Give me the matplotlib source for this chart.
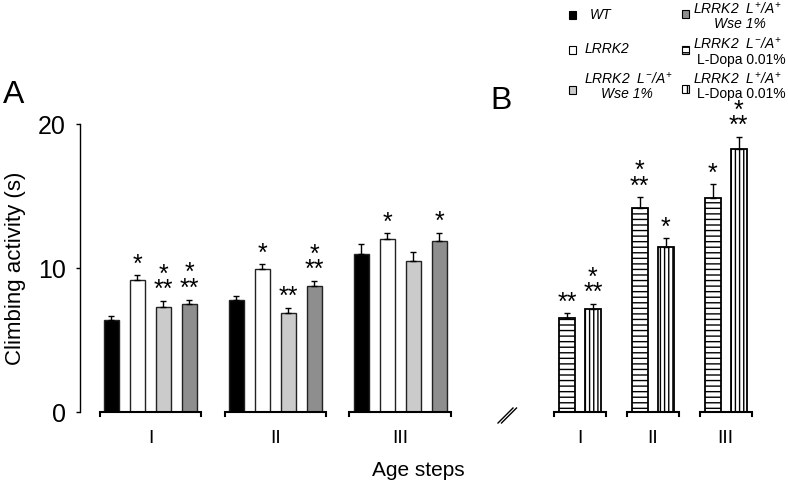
import matplotlib
matplotlib.use("Agg")
import matplotlib.pyplot as plt
from matplotlib.patches import Rectangle
from matplotlib.lines import Line2D
import numpy as np

plt.rcParams["font.family"] = ["Liberation Sans", "DejaVu Sans"]
plt.rcParams["mathtext.fontset"] = "custom"
plt.rcParams["mathtext.it"] = "Liberation Sans:italic"
plt.rcParams["mathtext.rm"] = "Liberation Sans:italic"
plt.rcParams["hatch.linewidth"] = 1.0

# ---- data ----
age_steps = ["I", "II", "III"]

# panel A: WT, LRRK2, LRRK2 L-/A+ Wse, LRRK2 L+/A+ Wse
a_means = [
    [6.4, 9.2, 7.3, 7.5],
    [7.8, 9.9, 6.9, 8.75],
    [11.0, 12.0, 10.5, 11.9],
]
a_errs = [
    [0.25, 0.28, 0.4, 0.3],
    [0.25, 0.35, 0.35, 0.35],
    [0.7, 0.4, 0.6, 0.55],
]
a_stars = [
    ["", "*", "*\n**", "*\n**"],
    ["", "*", "**", "*\n**"],
    ["", "*", "", "*"],
]

# panel B: LRRK2 L-/A+ L-Dopa, LRRK2 L+/A+ L-Dopa
b_means = [
    [6.5, 7.15],
    [14.2, 11.45],
    [14.85, 18.25],
]
b_errs = [
    [0.35, 0.35],
    [0.7, 0.6],
    [0.95, 0.85],
]
b_stars = [
    ["**", "*\n**"],
    ["*\n**", "*"],
    ["*", "*\n**"],
]

a_colors = ["#000000", "#ffffff", "#cbcbcb", "#8e8e8e"]
b_hatches = ["---", "||||"]

W, H = 788, 488
fig = plt.figure(figsize=(W / 100, H / 100), dpi=100)


def fx(px):
    return px / W


def fy(py):
    return 1 - py / H


axA = fig.add_axes([fx(80), fy(412), 380 / W, 288 / H])
axB = fig.add_axes([fx(490), fy(412), 280 / W, 288 / H])


def draw_stars(ax, x, top, s):
    # significance marks: "*" stacked over "**"
    ax.annotate(s, xy=(x, top), xytext=(0, 4), textcoords="offset pixels",
                ha="center", va="baseline", multialignment="center",
                linespacing=0.55, fontsize=18, annotation_clip=False)


def draw_group_line(ax, x0, x1):
    ax.plot([x0, x0, x1, x1], [-0.28, 0, 0, -0.28], color="black", lw=1.5,
            clip_on=False, solid_joinstyle="miter")


# ---- panel A ----
a_pitch = 4.8
a_width = 0.58
for g in range(len(age_steps)):
    xs = g * a_pitch + np.arange(4)
    axA.bar(xs, a_means[g], width=a_width, color=a_colors,
            edgecolor="#222222", linewidth=1, zorder=2)
    axA.errorbar(xs, a_means[g], yerr=[np.zeros(4), a_errs[g]], fmt="none",
                 ecolor="black", elinewidth=1, capsize=2.2, capthick=1, zorder=3)
    for x, m, e, s in zip(xs, a_means[g], a_errs[g], a_stars[g]):
        if s:
            draw_stars(axA, x, m + e, s)
    c = g * a_pitch + 1.5
    draw_group_line(axA, c - 1.95, c + 1.95)

axA.set_xlim(-1.21, -1.21 + 380 / 26)
axA.set_ylim(0, 20)
axA.set_yticks([0, 10, 20])
axA.tick_params(axis="y", labelsize=18, direction="out", length=3, width=1, pad=7)
axA.set_xticks([g * a_pitch + 1.5 for g in range(3)])
axA.set_xticklabels(age_steps, fontsize=14)
axA.tick_params(axis="x", length=0, pad=13)
for sp in ["top", "right", "bottom"]:
    axA.spines[sp].set_visible(False)
axA.spines["left"].set_bounds(0, 20)
axA.spines["left"].set_linewidth(1)
axA.set_ylabel("Climbing activity (s)", fontsize=16)
axA.yaxis.set_label_coords(-(80 - 26) / 380, 0.5)

# ---- panel B ----
b_pitch = 2.8
b_width = 0.62
for g in range(len(age_steps)):
    xs = g * b_pitch + np.arange(2)
    for i in range(2):
        axB.bar(xs[i], b_means[g][i], width=b_width, color="white",
                edgecolor="black", hatch=b_hatches[i], linewidth=1.3, zorder=2)
    axB.errorbar(xs, b_means[g], yerr=[np.zeros(2), b_errs[g]], fmt="none",
                 ecolor="black", elinewidth=1, capsize=2.2, capthick=1, zorder=3)
    for x, m, e, s in zip(xs, b_means[g], b_errs[g], b_stars[g]):
        if s:
            draw_stars(axB, x, m + e, s)
    c = g * b_pitch + 0.5
    draw_group_line(axB, c - 1.0, c + 1.0)

axB.set_xlim(-2.96, -2.96 + 280 / 26)
axB.set_ylim(0, 20)
axB.set_yticks([])
axB.set_xticks([g * b_pitch + 0.5 for g in range(3)])
axB.set_xticklabels(age_steps, fontsize=14)
axB.tick_params(axis="x", length=0, pad=13)
for sp in ["top", "right", "bottom", "left"]:
    axB.spines[sp].set_visible(False)
axB.patch.set_alpha(0)

# axis break mark
for off in (0, 3.5):
    fig.add_artist(Line2D([fx(498 + off), fx(513 + off)], [fy(423), fy(408)],
                          color="black", lw=1))

# panel letters and x label
fig.text(fx(3), fy(103), "A", fontsize=23, ha="left", va="baseline")
fig.text(fx(490), fy(109), "B", fontsize=23, ha="left", va="baseline")
fig.text(fx(418), fy(470), "Age steps", fontsize=15, ha="center", va="center")

# ---- legend ----
def legend_square(cx, cy, face, hatch=None):
    fig.add_artist(Rectangle((fx(cx - 3.5), fy(cy + 3.5)), 7 / W, 7 / H,
                             transform=fig.transFigure, facecolor=face,
                             edgecolor="black", linewidth=0.8, hatch=hatch))


lrrk_mm = r"$LRRK2\ \ L^{-}/A^{+}$"
lrrk_pm = r"$LRRK2\ \ L^{+}/A^{+}$"
fs = 10

legend_square(572, 15, a_colors[0])
fig.text(fx(590), fy(15), "WT", fontsize=fs, style="italic", va="center")
legend_square(572, 50, a_colors[1])
fig.text(fx(585), fy(49), "LRRK2", fontsize=fs, style="italic", va="center")
legend_square(572, 90, a_colors[2])
fig.text(fx(628), fy(79), lrrk_mm, fontsize=fs, ha="center", va="center")
fig.text(fx(627), fy(94), "Wse 1%", fontsize=fs, style="italic", ha="center", va="center")

legend_square(685, 14, a_colors[3])
fig.text(fx(737), fy(9), lrrk_pm, fontsize=fs, ha="center", va="center")
fig.text(fx(740), fy(24), "Wse 1%", fontsize=fs, style="italic", ha="center", va="center")
legend_square(685, 50, "white", "---")
fig.text(fx(737), fy(44), lrrk_mm, fontsize=fs, ha="center", va="center")
fig.text(fx(741), fy(60), "L-Dopa 0.01%", fontsize=fs, ha="center", va="center")
legend_square(685, 89, "white", "||")
fig.text(fx(737), fy(79), lrrk_pm, fontsize=fs, ha="center", va="center")
fig.text(fx(741), fy(94), "L-Dopa 0.01%", fontsize=fs, ha="center", va="center")

fig.savefig("out.png", dpi=100)
